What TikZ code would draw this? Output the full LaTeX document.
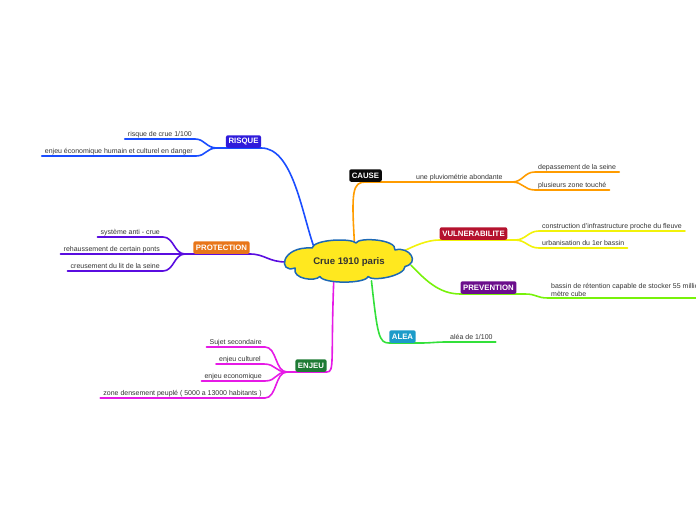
\documentclass[tikz,border=0pt]{standalone}
\usepackage{fontspec}
\setmainfont{Liberation Sans}
\usetikzlibrary{shapes.geometric,backgrounds}

\definecolor{ink}{HTML}{333333}
\definecolor{cloudfill}{HTML}{FFE81F}
\definecolor{cloudedge}{HTML}{1C68B5}
\definecolor{risqueline}{HTML}{1A4DFF}
\definecolor{risquebox}{HTML}{2F1BDB}
\definecolor{protline}{HTML}{5A0DE0}
\definecolor{protbox}{HTML}{E8761A}
\definecolor{enjeuline}{HTML}{E61AE6}
\definecolor{enjeubox}{HTML}{1E7B34}
\definecolor{causeline}{HTML}{FF9C00}
\definecolor{causebox}{HTML}{0A0A0A}
\definecolor{vulnline}{HTML}{F2F20A}
\definecolor{vulnbox}{HTML}{B5122E}
\definecolor{prevline}{HTML}{77F20A}
\definecolor{prevbox}{HTML}{6B0E8C}
\definecolor{alealine}{HTML}{33E03A}
\definecolor{aleabox}{HTML}{1C9BC9}

\begin{document}
\begin{tikzpicture}[
    x=1pt, y=1pt,
    topic/.style={
        ellipse, minimum width=125pt, minimum height=40pt, inner sep=0pt,
        text=ink, font=\bfseries\fontsize{9.6}{11}\selectfont
    },
    cloudline/.style={draw=cloudedge, fill=cloudfill, line width=1.5pt, line join=round},
    mainbox/.style={
        anchor=south, rounded corners=2pt, text=white,
        font=\bfseries\fontsize{7.8}{9}\selectfont,
        inner xsep=2.6pt, inner ysep=0pt, minimum height=12.5pt
    },
    leaf/.style={
        text=ink, font=\fontsize{7}{8.2}\selectfont,
        text height=5pt, text depth=1.5pt,
        inner xsep=3pt, inner ysep=1.2pt
    },
    branch/.style={line width=1.6pt, line cap=round}
]

    \useasboundingbox (0,0) rectangle (696,520);

    %------------------------------------------------
    % Central topic
    %------------------------------------------------

    \node[topic] (crue) at (349,258) {Crue 1910 paris};

    %------------------------------------------------
    % Main topics
    %------------------------------------------------

    \node[mainbox, fill=risquebox] (risque) at (243.5,372) {RISQUE};
    \node[mainbox, fill=protbox] (protection) at (221.5,266) {PROTECTION};
    \node[mainbox, fill=enjeubox] (enjeu) at (311,148) {ENJEU};
    \node[mainbox, fill=causebox] (cause) at (365.5,338) {CAUSE};
    \node[mainbox, fill=vulnbox] (vulnerabilite) at (473.5,280) {VULNERABILITE};
    \node[mainbox, fill=prevbox] (prevention) at (488.5,226) {PREVENTION};
    \node[mainbox, fill=aleabox] (alea) at (402.5,177) {ALEA};

    \coordinate (risque-b) at (217,372);
    \coordinate (protection-b) at (185,266);
    \coordinate (enjeu-b) at (287,148);
    \coordinate (pluvio-b) at (512,338);
    \coordinate (vulnerabilite-b) at (515,280);
    \coordinate (prevention-b) at (525,226);
    \coordinate (alea-b) at (420,177);

    %------------------------------------------------
    % Subtopics
    %------------------------------------------------

    \node[leaf, anchor=south east] (risque-1) at (195,381) {risque de crue 1/100};
    \node[leaf, anchor=south east] (risque-2) at (196,364)
        {enjeu économique humain et culturel en danger};

    \node[leaf, anchor=south east] (protection-1) at (163,283) {système anti - crue};
    \node[leaf, anchor=south east] (protection-2) at (163,266) {rehaussement de certain ponts};
    \node[leaf, anchor=south east] (protection-3) at (163,249) {creusement du lit de la seine};

    \node[leaf, anchor=south east] (enjeu-1) at (265,173) {Sujet secondaire};
    \node[leaf, anchor=south east] (enjeu-2) at (264,156) {enjeu culturel};
    \node[leaf, anchor=south east] (enjeu-3) at (265,139) {enjeu economique};
    \node[leaf, anchor=south east] (enjeu-4) at (265,122)
        {zone densement peuplé ( 5000 a 13000 habitants )};

    \node[leaf, anchor=south west] (pluvio) at (413,338) {une pluviométrie abondante};
    \node[leaf, anchor=south west] (cause-1) at (535,348) {depassement de la seine};
    \node[leaf, anchor=south west] (cause-2) at (535,330) {plusieurs zone touché};

    \node[leaf, anchor=south west] (vulnerabilite-1) at (539,289)
        {construction d'infrastructure proche du fleuve};
    \node[leaf, anchor=south west] (vulnerabilite-2) at (539,272) {urbanisation du 1er bassin};

    \node[leaf, anchor=south west, align=left, text height=, text depth=] (prevention-1) at (548,222)
        {bassin de rétention capable de stocker 55 millions de\\mètre cube};

    \node[leaf, anchor=south west] (alea-1) at (447,178) {aléa de 1/100};

    %------------------------------------------------
    % Connectors and cloud
    %------------------------------------------------

    \begin{scope}[on background layer]

    \draw[branch, risqueline]
        (crue.155) .. controls +(-12,35) and +(31,0) .. (risque.south east)
        -- (risque-b);
    \draw[branch, risqueline]
        (risque-b) .. controls +(-11,0) and +(10,0) .. (risque-1.south east)
        -- (risque-1.south west);
    \draw[branch, risqueline]
        (risque-b) .. controls +(-11,0) and +(10,0) .. (risque-2.south east)
        -- (risque-2.south west);

    \draw[branch, protline]
        (crue.180) .. controls +(-18,0) and +(15,0) .. (protection.south east)
        -- (protection-b);
    \draw[branch, protline]
        (protection-b) .. controls +(-11,0) and +(11,0) .. (protection-1.south east)
        -- (protection-1.south west);
    \draw[branch, protline]
        (protection-b) -- (protection-2.south east) -- (protection-2.south west);
    \draw[branch, protline]
        (protection-b) .. controls +(-11,0) and +(11,0) .. (protection-3.south east)
        -- (protection-3.south west);

    \draw[branch, enjeuline]
        (crue.232) .. controls +(-3,-80) and +(8,0) .. (enjeu.south east)
        -- (enjeu-b);
    \foreach \k in {1,...,4}
        \draw[branch, enjeuline]
            (enjeu-b) .. controls +(-12,0) and +(12,0) .. (enjeu-\k.south east)
            -- (enjeu-\k.south west);

    \draw[branch, causeline]
        (crue.75) .. controls +(-3,50) and +(-13,0) .. (cause.south)
        -- (pluvio.south west) -- (pluvio-b);
    \draw[branch, causeline]
        (pluvio-b) .. controls +(11,0) and +(-11,0) .. (cause-1.south west)
        -- (cause-1.south east);
    \draw[branch, causeline]
        (pluvio-b) .. controls +(11,0) and +(-11,0) .. (cause-2.south west)
        -- (cause-2.south east);

    \draw[branch, vulnline]
        (crue.11) .. controls +(12,6) and +(-12,0) .. (vulnerabilite.south west)
        -- (vulnerabilite-b);
    \draw[branch, vulnline]
        (vulnerabilite-b) .. controls +(11,0) and +(-11,0) .. (vulnerabilite-1.south west)
        -- (vulnerabilite-1.south east);
    \draw[branch, vulnline]
        (vulnerabilite-b) .. controls +(11,0) and +(-11,0) .. (vulnerabilite-2.south west)
        -- (vulnerabilite-2.south east);

    \draw[branch, prevline]
        (crue.357) .. controls +(14,-14) and +(-22,0) .. (prevention.south west)
        -- (prevention-b);
    \draw[branch, prevline]
        (prevention-b) .. controls +(12,0) and +(-12,0) .. (prevention-1.south west)
        -- (prevention-1.south east);

    \draw[branch, alealine]
        (crue.320) .. controls +(6,-55) and +(-10,0) .. (alea.south west)
        -- (alea-b);
    \draw[branch, alealine]
        (alea-b) .. controls +(12,0) and +(-12,0) .. (alea-1.south west)
        -- (alea-1.south east);

    % cloud outline, lobe by lobe
    \draw[cloudline]
        (312,272) .. controls (314,281) and (352,282) .. (356,277)
        .. controls (358,283) and (397,281) .. (395,270)
        .. controls (410,274) and (420,257) .. (405,253.5)
        .. controls (405,244) and (372,238) .. (368,243.5)
        .. controls (366,236) and (323,236) .. (320,243.5)
        .. controls (315,238) and (292,241) .. (295,252)
        .. controls (278,246) and (280,274) .. cycle;

    \end{scope}

\end{tikzpicture}
\end{document}
